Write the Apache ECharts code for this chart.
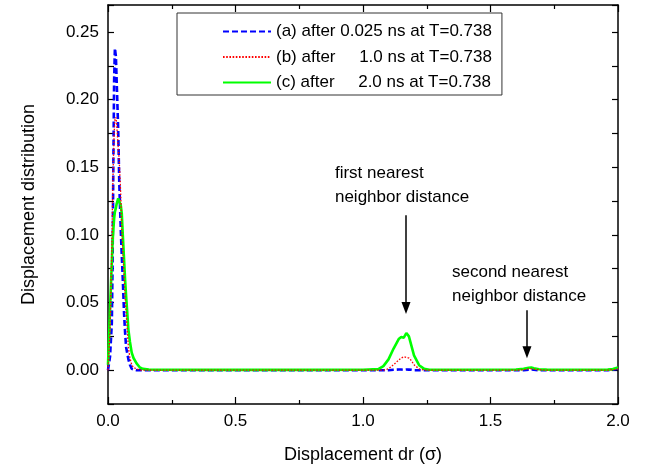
<!DOCTYPE html>
<html>
<head>
<meta charset="utf-8">
<script src="https://cdn.jsdelivr.net/npm/echarts@6/dist/echarts.min.js"></script>
<style>html,body{margin:0;padding:0;background:#fff}#c{width:650px;height:472px}</style>
</head>
<body>
<div id="c"></div>
<script>
// Displacement dr (sigma)
var xs = [0, 0.008, 0.015, 0.018, 0.021, 0.024, 0.027, 0.031, 0.034, 0.04, 0.044, 0.05, 0.054, 0.058, 0.063, 0.067, 0.071, 0.08, 0.086, 0.093, 0.1, 0.112, 0.125, 0.137, 0.16, 0.2, 0.4, 0.6, 0.8, 1.0, 1.06, 1.08, 1.10, 1.12, 1.14, 1.15, 1.16, 1.17, 1.18, 1.19, 1.20, 1.22, 1.24, 1.26, 1.4, 1.6, 1.63, 1.65, 1.66, 1.67, 1.69, 1.72, 1.8, 1.96, 1.98, 2.0];
var seriesA = [0, 0.01, 0.035, 0.079, 0.153, 0.214, 0.238, 0.232, 0.214, 0.178, 0.14, 0.104, 0.085, 0.067, 0.042, 0.028, 0.017, 0.008, 0.004, 0.001, 0, 0, 0, 0, 0, 0, 0, 0, 0, 0, 0, 0, 0, 0.0003, 0.0005, 0.0005, 0.0003, 0.0005, 0.0004, 0.0003, 0, 0, 0, 0, 0, 0, 0, 0.0004, 0.0005, 0.0003, 0, 0, 0, 0, 0.0003, 0.001];
var seriesB = [0, 0.03, 0.09, 0.128, 0.155, 0.175, 0.185, 0.187, 0.182, 0.165, 0.155, 0.13, 0.104, 0.088, 0.07, 0.054, 0.043, 0.017, 0.009, 0.004, 0.002, 0.001, 0, 0, 0, 0, 0, 0, 0, 0, 0, 0, 0.001, 0.004, 0.0075, 0.009, 0.010, 0.0095, 0.009, 0.007, 0.004, 0.001, 0, 0, 0, 0, 0.0003, 0.001, 0.001, 0.0008, 0.0003, 0, 0, 0, 0.0004, 0.001];
var seriesC = [0.004, 0.045, 0.08, 0.095, 0.104, 0.112, 0.117, 0.12, 0.123, 0.127, 0.126, 0.122, 0.116, 0.1, 0.082, 0.067, 0.055, 0.030, 0.021, 0.013, 0.009, 0.005, 0.002, 0.001, 0.0005, 0.0003, 0.0002, 0.0002, 0.0002, 0.0003, 0.0008, 0.003, 0.008, 0.016, 0.023, 0.0245, 0.024, 0.0275, 0.025, 0.018, 0.011, 0.0037, 0.001, 0.0003, 0.0003, 0.0005, 0.001, 0.0018, 0.002, 0.0015, 0.0007, 0.0004, 0.0003, 0.0004, 0.0008, 0.002];
var seriesNames = ['(a) after 0.025 ns at T=0.738', '(b) after     1.0 ns at T=0.738', '(c) after     2.0 ns at T=0.738'];
var xTicks = [0, 0.5, 1.0, 1.5, 2.0];
var yTicks = [0, 0.05, 0.10, 0.15, 0.20, 0.25];
var annotations = [
  {text: 'first nearest\nneighbor distance', at: [0.890, 0.1457]},
  {text: 'second nearest\nneighbor distance', at: [1.349, 0.0725]}
];
var arrows = [
  [[1.1686, 0.1146], [1.1686, 0.0459]],
  [[1.643, 0.0444], [1.643, 0.0133]]
];

function pairs(ys) { return xs.map(function (x, i) { return [x, ys[i]]; }); }
var FONT = '"Liberation Sans", Arial, sans-serif';
var chart = echarts.init(document.getElementById('c'), null, {renderer: 'canvas'});
var axisLine = {show: true, onZero: false, lineStyle: {color: '#000', width: 1.5}};
var option = {
  animation: false,
  backgroundColor: '#fff',
  textStyle: {fontFamily: FONT, color: '#000'},
  grid: {left: 108, right: 32, top: 5, bottom: 68},
  legend: {
    left: 177, top: 13, orient: 'vertical',
    padding: [10, 10, 4, 45],
    itemWidth: 48, itemHeight: 14, itemGap: 8.5,
    borderColor: '#333', borderWidth: 1,
    itemStyle: {opacity: 0},
    textStyle: {fontFamily: FONT, fontSize: 17, color: '#000'},
    data: seriesNames
  },
  xAxis: [{
    type: 'value', min: 0, max: 2, interval: 0.5,
    name: 'Displacement dr (σ)', nameLocation: 'middle', nameGap: 42,
    nameTextStyle: {fontFamily: FONT, fontSize: 18, color: '#000'},
    axisLine: axisLine,
    axisTick: {show: true, inside: true, length: 7, lineStyle: {color: '#000', width: 1.2}},
    minorTick: {show: true, splitNumber: 2, length: 4, lineStyle: {color: '#000', width: 1.2}},
    axisLabel: {fontFamily: FONT, fontSize: 17, color: '#000', margin: 9,
      formatter: function (v) { return xTicks.indexOf(+v.toFixed(2)) >= 0 ? v.toFixed(1) : ''; }},
    splitLine: {show: false}
  }, {
    type: 'value', position: 'top', min: 0, max: 2, interval: 0.5,
    axisLine: axisLine,
    axisTick: {show: true, inside: true, length: 7, lineStyle: {color: '#000', width: 1.2}},
    minorTick: {show: true, splitNumber: 2, length: 4, lineStyle: {color: '#000', width: 1.2}},
    axisLabel: {show: false}, splitLine: {show: false}
  }],
  yAxis: [{
    type: 'value', min: -0.025, max: 0.27, interval: 0.025,
    name: 'Displacement distribution', nameLocation: 'middle', nameGap: 70,
    nameTextStyle: {fontFamily: FONT, fontSize: 18, color: '#000'},
    axisLine: axisLine,
    axisTick: {show: true, inside: true, length: 6, lineStyle: {color: '#000', width: 1.2}},
    axisLabel: {fontFamily: FONT, fontSize: 17, color: '#000', margin: 9,
      formatter: function (v) {
        var r = +v.toFixed(3);
        for (var i = 0; i < yTicks.length; i++) { if (Math.abs(yTicks[i] - r) < 1e-6) return r.toFixed(2); }
        return '';
      }},
    splitLine: {show: false}
  }, {
    type: 'value', position: 'right', min: -0.025, max: 0.27, interval: 0.025,
    axisLine: axisLine,
    axisTick: {show: true, inside: true, length: 6, lineStyle: {color: '#000', width: 1.2}},
    axisLabel: {show: false}, splitLine: {show: false}
  }],
  series: [
    {name: seriesNames[0], type: 'line', data: pairs(seriesA), symbol: 'none', z: 2,
     lineStyle: {color: '#0000ff', width: 2.6, type: [6, 3]}, itemStyle: {color: '#0000ff'}},
    {name: seriesNames[1], type: 'line', data: pairs(seriesB), symbol: 'none', z: 4,
     lineStyle: {color: '#ff0000', width: 1.3, type: [1.6, 1.6]}, itemStyle: {color: '#ff0000'}},
    {name: seriesNames[2], type: 'line', data: pairs(seriesC), symbol: 'none', z: 3,
     lineStyle: {color: '#00ff00', width: 2.6}, itemStyle: {color: '#00ff00'},
     markLine: {
       silent: true, symbol: ['none', 'triangle'], symbolSize: [9, 12], symbolRotate: 180,
       label: {show: false},
       lineStyle: {color: '#000', width: 1.5, type: 'solid'},
       data: arrows.map(function (a) { return [{coord: a[0]}, {coord: a[1]}]; })
     }}
  ]
};
chart.setOption(option);
var g = annotations.map(function (a) {
  var p = chart.convertToPixel({gridIndex: 0}, a.at);
  return {type: 'text', left: p[0], top: p[1] - 12,
    style: {text: a.text, font: '17px ' + FONT, fill: '#000', lineHeight: 24}};
});
chart.setOption({graphic: g});
</script>
</body>
</html>
